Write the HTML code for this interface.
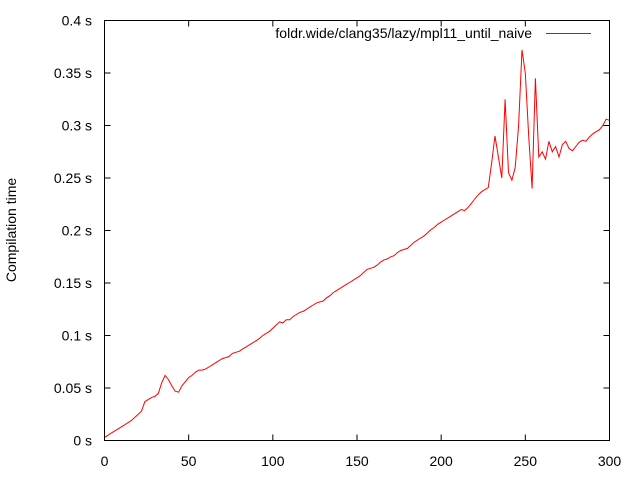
<!DOCTYPE html>
<html><head><meta charset="utf-8"><style>
html,body{margin:0;padding:0;background:#fff;}
svg text{font-family:"Liberation Sans",sans-serif;font-size:14px;fill:#000;}
</style></head><body>
<svg id="chart" width="640" height="480">
<rect x="0" y="0" width="640" height="480" fill="#fff"/>
<g id="grid"></g>
<polyline id="series" fill="none" stroke="#ff0000" stroke-width="1"/>
<rect x="104.5" y="20.5" width="505" height="420" fill="none" stroke="#000" stroke-width="1"/>
<text x="16" y="230" transform="rotate(-90 16 230)" text-anchor="middle">Compilation time</text>
<text x="532" y="38" text-anchor="end">foldr.wide/clang35/lazy/mpl11_until_naive</text>
<line x1="546" y1="33.5" x2="591" y2="33.5" stroke="#ff0000"/>
</svg>
<script>
const xTicks=[0,50,100,150,200,250,300];
const yTicks=[0,0.05,0.1,0.15,0.2,0.25,0.3,0.35,0.4];
const yTickLabels=["0 s","0.05 s","0.1 s","0.15 s","0.2 s","0.25 s","0.3 s","0.35 s","0.4 s"];
const xStep=2;
const values=[3,5,7,9,11, 13,15,17,19,22, 25,28,37,39,41, 42,45,55,62,58, 52,47,46,52,56,
60,62,65,67,67, 68,70,72,74,76, 78,79,80,83,84, 85,87,89,91,93, 95,97,100,102,104,
107,110,113,112,115, 115,118,120,122,123, 125,127,129,131,132, 133,136,138,141,143, 145,147,149,151,153,
155,157,160,163,164, 165,167,170,172,173, 175,176,179,181,182, 183,186,189,191,193, 195,198,201,203,206,
208,210,212,214,216, 218,220,219,222,226, 230,234,237,239,241, 265,290,270,250,325,
255,248,260,300,372, 350,290,240,345,270, 275,268,285,275,280, 270,282,285,278,276,
280,284,286,285,289, 292,294,296,300,306, 305];
const X0=104.5,X1=609.5,Y0=440.5,Y1=20.5;
const sx=v=>X0+(v-0)/300*(X1-X0);
const sy=v=>Y0-(v-0)/0.4*(Y0-Y1);
const NS="http://www.w3.org/2000/svg";
const g=document.getElementById('grid');
xTicks.forEach(t=>{
  const x=sx(t);
  for(const [a,b] of [[Y0,Y0-6],[Y1,Y1+6]]){
    const l=document.createElementNS(NS,'line');
    l.setAttribute('x1',x);l.setAttribute('x2',x);l.setAttribute('y1',a);l.setAttribute('y2',b);l.setAttribute('stroke','#000');
    
    
    g.appendChild(l);
  }
  const tx=document.createElementNS(NS,'text');
  tx.setAttribute('x',x);tx.setAttribute('y',466);tx.setAttribute('text-anchor','middle');tx.textContent=t;
  
  
  g.appendChild(tx);
});
yTicks.forEach((t,i)=>{
  const y=sy(t);
  for(const [a,b] of [[X0,X0+6],[X1,X1-6]]){
    const l=document.createElementNS(NS,'line');
    l.setAttribute('x1',a);l.setAttribute('x2',b);l.setAttribute('y1',y);l.setAttribute('y2',y);l.setAttribute('stroke','#000');
    
    
    g.appendChild(l);
  }
  const tx=document.createElementNS(NS,'text');
  tx.setAttribute('x',92);tx.setAttribute('y',y+5);tx.setAttribute('text-anchor','end');tx.textContent=yTickLabels[i];
  
  
  g.appendChild(tx);
});
document.getElementById('series').setAttribute('points',values.map((v,i)=>sx(i*xStep).toFixed(1)+','+sy(v/1000).toFixed(1)).join(' '));
</script>
</body></html>
